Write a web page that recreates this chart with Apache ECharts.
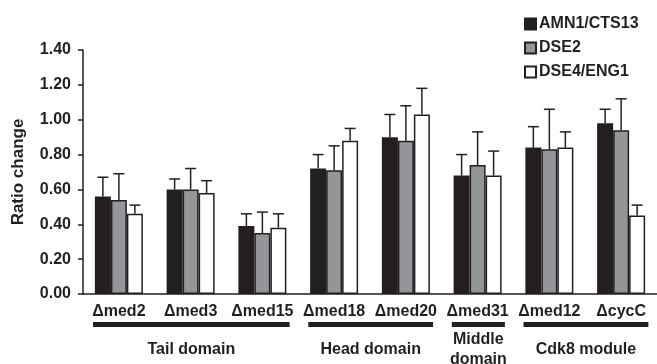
<!DOCTYPE html>
<html>
<head>
<meta charset="utf-8">
<script src="https://cdn.jsdelivr.net/npm/echarts@6/dist/echarts.min.js"></script>
<style>html,body{margin:0;padding:0;background:#fff}#c{width:657px;height:364px}</style>
</head>
<body>
<div id="c"></div>
<script>
const categories = ['\u0394med2','\u0394med3','\u0394med15','\u0394med18','\u0394med20','\u0394med31','\u0394med12','\u0394cycC'];
const seriesNames = ['AMN1/CTS13','DSE2','DSE4/ENG1'];
const amn1 = [0.56, 0.60, 0.39, 0.72, 0.90, 0.68, 0.84, 0.98];
const dse2 = [0.54, 0.60, 0.35, 0.71, 0.88, 0.74, 0.83, 0.94];
const dse4 = [0.46, 0.58, 0.38, 0.88, 1.03, 0.68, 0.84, 0.45];
const amn1Err = [0.11, 0.06, 0.07, 0.08, 0.13, 0.12, 0.12, 0.08];
const dse2Err = [0.15, 0.12, 0.12, 0.14, 0.20, 0.19, 0.23, 0.18];
const dse4Err = [0.05, 0.07, 0.08, 0.07, 0.15, 0.14, 0.09, 0.06];
const groupNames = ['Tail domain','Head domain','Middle\ndomain','Cdk8 module'];
const groupStart = [0, 3, 5, 6];
const groupEnd = [2, 4, 5, 7];

const FONT = 'Liberation Sans, Arial, sans-serif';
const INK = '#231f20';
const colors = [INK, '#939598', '#ffffff'];
const means = [amn1, dse2, dse4];
const errs = [amn1Err, dse2Err, dse4Err];
const BAR_W = 16;

const chart = echarts.init(document.getElementById('c'));

const series = [];
seriesNames.forEach((n, i) => {
  series.push({
    name: n, type: 'bar', data: means[i], barWidth: BAR_W, barGap: 0,
    itemStyle: { color: colors[i], borderColor: INK, borderWidth: 1.5 },
    emphasis: { disabled: true }
  });
});
seriesNames.forEach((n, i) => {
  series.push({
    type: 'custom', silent: true, z: 1,
    data: means[i].map((m, k) => [k, m, m + errs[i][k]]),
    renderItem: function (params, api) {
      const off = (i - 1) * BAR_W;
      const p0 = api.coord([api.value(0), api.value(1)]);
      const p1 = api.coord([api.value(0), api.value(2)]);
      const x = p0[0] + off;
      const cap = 5.5;
      return {
        type: 'group',
        children: [
          { type: 'line', shape: { x1: x, y1: p0[1], x2: x, y2: p1[1] }, style: { stroke: INK, lineWidth: 1.5 } },
          { type: 'line', shape: { x1: x - cap, y1: p1[1], x2: x + cap, y2: p1[1] }, style: { stroke: INK, lineWidth: 1.5 } }
        ]
      };
    }
  });
});
series.push({
  type: 'custom', silent: true, clip: false,
  data: groupStart.map((s, k) => [s, 0, groupEnd[k]]),
  renderItem: function (params, api) {
    const k = params.dataIndex;
    const pa = api.coord([groupStart[k], 0]);
    const pb = api.coord([groupEnd[k], 0]);
    const w = api.size([1, 0])[0];
    const x1 = pa[0] - 0.36 * w;
    const x2 = pb[0] + 0.38 * w;
    const y0 = pa[1];
    return {
      type: 'group',
      children: [
        { type: 'rect', shape: { x: x1, y: y0 + 28, width: x2 - x1, height: 5 }, style: { fill: INK } },
        { type: 'text', x: (x1 + x2) / 2, y: y0 + 56,
          style: { text: groupNames[k], fontFamily: FONT, fontWeight: 'bold', fontSize: 16, fill: INK,
                   align: 'center', verticalAlign: 'middle', lineHeight: 20 } }
      ]
    };
  }
});

chart.setOption({
  animation: false,
  textStyle: { fontFamily: FONT },
  grid: { left: 83, right: -4, top: 50, bottom: 70, containLabel: false },
  legend: {
    orient: 'vertical', left: 524, top: 16, padding: 0, itemWidth: 11, itemHeight: 11, itemGap: 8,
    data: seriesNames, selectedMode: false, icon: 'rect',
    textStyle: { fontFamily: FONT, fontWeight: 'bold', fontSize: 16, color: INK, padding: [0, 0, 0, -2] }
  },
  xAxis: {
    type: 'category', data: categories,
    axisLine: { lineStyle: { color: INK, width: 1.5 } },
    axisTick: { show: false },
    axisLabel: { fontFamily: FONT, fontWeight: 'bold', fontSize: 16, color: INK, margin: 10, interval: 0 }
  },
  yAxis: {
    type: 'value', min: 0, max: 1.4, interval: 0.2,
    name: 'Ratio change', nameLocation: 'middle', nameRotate: 90, nameGap: 56,
    nameTextStyle: { fontFamily: FONT, fontWeight: 'bold', fontSize: 17, color: INK },
    splitLine: { show: false },
    axisLine: { show: true, lineStyle: { color: INK, width: 1.5 } },
    axisTick: { show: true, length: 5, lineStyle: { color: INK, width: 1.5 } },
    axisLabel: { fontFamily: FONT, fontWeight: 'bold', fontSize: 16, color: INK, margin: 12,
                 formatter: v => v.toFixed(2) }
  },
  series: series
});
</script>
</body>
</html>
